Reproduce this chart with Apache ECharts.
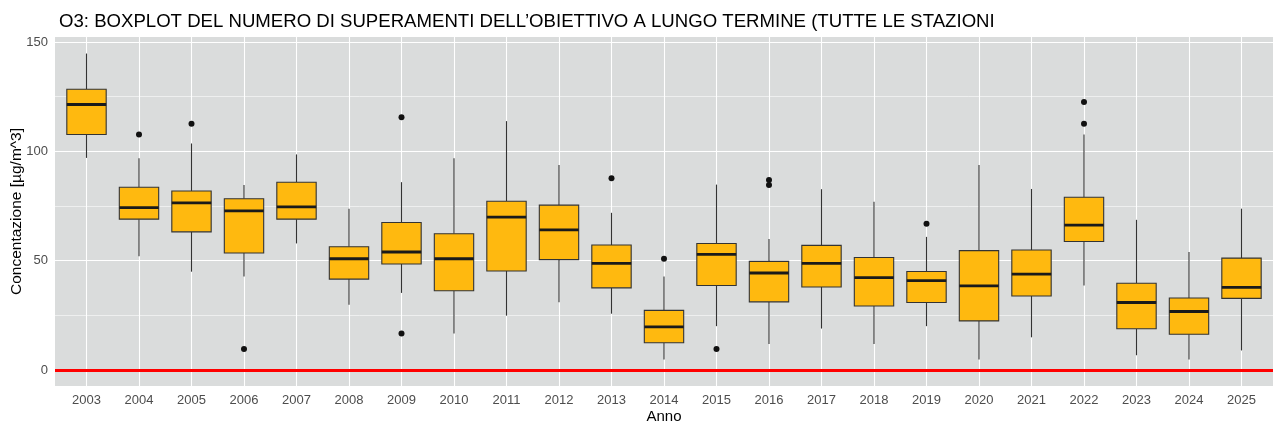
<!DOCTYPE html>
<html>
<head>
<meta charset="utf-8">
<script src="https://cdn.jsdelivr.net/npm/echarts@6/dist/echarts.min.js"></script>
<style>
  html, body { margin: 0; padding: 0; background: #fff; }
  #chart { width: 1277px; height: 428px; }
</style>
</head>
<body>
<div id="chart"></div>
<script>
// anni e statistiche del boxplot
const years = ['2003', '2004', '2005', '2006', '2007', '2008', '2009', '2010', '2011', '2012', '2013', '2014',
  '2015', '2016', '2017', '2018', '2019', '2020', '2021', '2022', '2023', '2024', '2025'];
const whiskerLow = [97, 52, 45, 42.8, 57.9, 29.9, 35.3, 16.7, 24.9, 31, 25.8, 4.9,
  20.1, 12, 19, 12, 20.1, 4.9, 15, 38.7, 6.8, 4.9, 9];
const q1 = [107.7, 69, 63.2, 53.5, 69, 41.6, 48.5, 36.3, 45.3, 50.5, 37.6, 12.5,
  38.7, 31.2, 38, 29.3, 30.9, 22.5, 33.9, 58.8, 18.9, 16.4, 32.8];
const median = [121.4, 74.3, 76.4, 72.8, 74.6, 50.9, 54, 50.9, 69.9, 64.1, 48.8, 19.8,
  52.9, 44.4, 48.8, 42.3, 40.9, 38.5, 43.9, 66.3, 30.9, 26.8, 37.8];
const q3 = [128.4, 83.6, 81.9, 78.3, 85.9, 56.4, 67.5, 62.3, 77.2, 75.4, 57.2, 27.3,
  57.9, 49.7, 57, 51.5, 45.1, 54.6, 54.9, 79, 39.7, 33, 51.2];
const whiskerHigh = [144.7, 96.8, 103.6, 84.6, 98.6, 73.8, 85.9, 96.8, 113.8, 93.8, 71.9, 42.8,
  84.8, 59.9, 82.7, 76.9, 60.9, 93.8, 82.8, 107.7, 68.7, 54, 73.8];
const outlierYears = ['2004', '2005', '2006', '2009', '2009', '2013', '2014', '2015', '2016', '2016', '2019', '2022', '2022'];
const outlierValues = [107.7, 112.6, 9.7, 115.6, 16.7, 87.7, 50.9, 9.7, 86.9, 84.6, 66.9, 122.6, 112.6];
const yTicks = [0, 50, 100, 150];
const yMinor = [25, 75, 125];
const limitValue = 0;

const font = 'Liberation Sans, Arial, sans-serif';
const idx = years.map((y, i) => i);

const chart = echarts.init(document.getElementById('chart'), null, { renderer: 'canvas' });

function renderBox(params, api) {
  const x = api.value(0);
  const half = api.size([0.75, 0])[0] / 2;
  const lo = api.coord([x, api.value(1)]);
  const b1 = api.coord([x, api.value(2)]);
  const md = api.coord([x, api.value(3)]);
  const b3 = api.coord([x, api.value(4)]);
  const hi = api.coord([x, api.value(5)]);
  const line = { stroke: '#333333', lineWidth: 1.1 };
  return {
    type: 'group',
    children: [
      { type: 'line', shape: { x1: lo[0], y1: lo[1], x2: b1[0], y2: b1[1] }, style: line },
      { type: 'line', shape: { x1: b3[0], y1: b3[1], x2: hi[0], y2: hi[1] }, style: line },
      {
        type: 'rect',
        shape: { x: b3[0] - half, y: b3[1], width: half * 2, height: b1[1] - b3[1] },
        style: { fill: '#FFB90F', stroke: '#333333', lineWidth: 1.1 }
      },
      {
        type: 'line',
        shape: { x1: md[0] - half, y1: md[1], x2: md[0] + half, y2: md[1] },
        style: { stroke: '#1a1a1a', lineWidth: 2.8 }
      }
    ]
  };
}

const gridLines = [];
yTicks.forEach(v => gridLines.push({ yAxis: v, lineStyle: { width: 1.1 } }));
yMinor.forEach(v => gridLines.push({ yAxis: v, lineStyle: { width: 0.55 } }));
idx.forEach(i => gridLines.push({ xAxis: i, lineStyle: { width: 1.1 } }));

const option = {
  animation: false,
  title: {
    text: 'O3: BOXPLOT DEL NUMERO DI SUPERAMENTI DELL\u2019OBIETTIVO A LUNGO TERMINE (TUTTE LE STAZIONI',
    left: 54,
    top: 7,
    textStyle: { fontFamily: font, fontSize: 18.6, fontWeight: 'normal', color: '#000' }
  },
  grid: {
    left: 55, right: 4, top: 37, bottom: 42,
    outerBoundsMode: 'none',
    containLabel: false,
    show: true, backgroundColor: '#DADCDC', borderWidth: 0
  },
  xAxis: {
    type: 'value',
    min: -0.6,
    max: years.length - 1 + 0.6,
    name: 'Anno',
    nameLocation: 'middle',
    nameGap: 23,
    nameMoveOverlap: false,
    nameTextStyle: { fontFamily: font, fontSize: 15, color: '#000' },
    axisLine: { show: false },
    splitLine: { show: false },
    axisTick: { show: true, length: 4, customValues: idx, lineStyle: { color: '#333' } },
    axisLabel: {
      customValues: idx,
      margin: 8,
      fontFamily: font, fontSize: 13, color: '#4D4D4D',
      formatter: v => years[Math.round(v)]
    }
  },
  yAxis: {
    type: 'value',
    min: -7.25,
    max: 152.25,
    name: 'Concentazione [\u00b5g/m^3]',
    nameLocation: 'middle',
    nameRotate: 90,
    nameGap: 30,
    nameMoveOverlap: false,
    nameTextStyle: { fontFamily: font, fontSize: 15.5, color: '#000' },
    axisLine: { show: false },
    splitLine: { show: false },
    axisTick: { show: true, length: 4, customValues: yTicks, lineStyle: { color: '#333' } },
    axisLabel: { customValues: yTicks, margin: 7, fontFamily: font, fontSize: 13, color: '#4D4D4D' }
  },
  series: [
    {
      name: 'griglia',
      type: 'scatter',
      data: [],
      silent: true,
      markLine: {
        z: 1,
        silent: true,
        symbol: ['none', 'none'],
        label: { show: false },
        emphasis: { disabled: true },
        lineStyle: { color: '#FFFFFF', type: 'solid' },
        data: gridLines
      }
    },
    {
      name: 'box',
      type: 'custom',
      z: 2,
      renderItem: renderBox,
      encode: { x: 0, y: [1, 2, 3, 4, 5] },
      data: idx.map(i => [i, whiskerLow[i], q1[i], median[i], q3[i], whiskerHigh[i]])
    },
    {
      name: 'outlier',
      type: 'scatter',
      z: 3,
      symbolSize: 6,
      itemStyle: { color: '#111111', opacity: 1 },
      data: outlierYears.map((y, k) => [years.indexOf(y), outlierValues[k]]),
      markLine: {
        z: 5,
        silent: true,
        symbol: ['none', 'none'],
        label: { show: false },
        emphasis: { disabled: true },
        lineStyle: { color: '#FF0000', width: 3, type: 'solid' },
        data: [{ yAxis: limitValue }]
      }
    }
  ]
};

chart.setOption(option);
</script>
</body>
</html>
